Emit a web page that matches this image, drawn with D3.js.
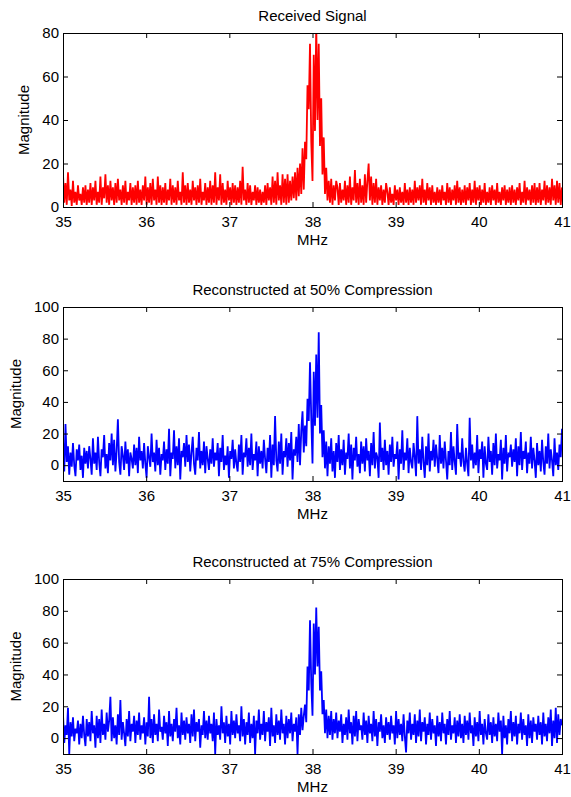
<!DOCTYPE html>
<html>
<head>
<meta charset="utf-8">
<script src="https://cdn.jsdelivr.net/npm/d3@7"></script>
<style>
  body { margin: 0; background: #fff; }
  svg text { font-family: Arial, "Liberation Sans", Helvetica, sans-serif; font-size: 15px; fill: #000; }
</style>
</head>
<body>
<div id="chart"></div>
<script>
// Three spectra, sampled evenly from 35 to 41 MHz

const freqRange = [35, 41];
const freqTicks = [35, 36, 37, 38, 39, 40, 41];

const titles = ["Received Signal", "Reconstructed at 50% Compression", "Reconstructed at 75% Compression"];
const yDomains = [[0, 80], [-10, 100], [-10, 100]];
const yTicks = [[0, 20, 40, 60, 80], [0, 20, 40, 60, 80, 100], [0, 20, 40, 60, 80, 100]];
const colors = ["#ff0000", "#0000ff", "#0000ff"];

const received = [
  15,2,11,1,16,3,8,0.5,12,2,7,1,10,3,6,1,9,2,10,1,
  8,2,11,1,9,3,12,1,7,2,14,1,9,4,15,2,10,1,12,3,
  9,1,11,2,13,3,8,1,10,2,12,1,7,3,11,1,9,2,10,1,
  12,2,8,1,10,3,14,1,9,2,11,1,13,3,8,1,14,2,10,1,
  9,2,11,1,8,3,13,1,10,2,9,1,12,3,7,1,16,2,10,1,
  11,2,8,1,12,3,9,1,10,2,13,1,7,3,11,1,9,2,12,1,
  10,2,16,1,9,3,15,1,11,2,8,1,12,3,9,1,11,2,10,1,
  9,2,12,1,18.5,3,8,1,11,2,10,1,7,3,10,1,9,2,8,1,
  7,2,10,1,11,3,9,1,14,2,12,1,16,3,10,1,15,2,13,1,
  15,2,12,3,14,4,16,3,18,5,20,6,27,8,30,22,56,45,75,30,
  12,70,35,84,40,75,28,50,15,32,6,18,3,12,2,13,1,10,3,12,
  9,1,11,2,8,3,12,1,10,2,14,1,9,3,17,2,11,1,13,2,
  10,1,15,2,12,20,3,14,1,11,2,13,1,9,3,10,1,8,2,11,
  7,1,9,2,6,1,10,3,8,1,9,2,7,1,11,2,8,1,9,2,
  8,1,12,2,9,3,10,1,13,2,8,1,11,3,9,1,10,2,7,1,
  9,2,8,1,10,3,7,1,11,2,9,1,8,3,10,1,12,2,9,1,
  8,2,10,1,9,3,11,1,8,2,12,1,9,3,10,1,8,2,11,1,
  7,2,9,1,10,3,8,1,11,2,7,1,9,3,10,1,8,2,9,1,
  10,2,8,1,9,3,11,1,7,2,12,1,9,3,8,1,10,2,11,1,
  9,2,11,1,8,3,12,1,10,2,9,1,13,3,10,1,12,2,11,1,
  9
];

const recon50 = [
  16,-4,26,2,12,-6,8,-1,14,0,-7,10,3,13,-3,6,-8,11,1,9,
  -2,12,4,-6,17,1,8,-3,18,2,-7,10,5,19,-2,7,-5,14,3,20,
  0,16,-4,9,29,2,-6,12,6,-3,15,1,10,-7,8,4,-2,13,0,11,
  -5,18,3,9,-2,14,1,-8,12,5,-1,20,2,8,-4,16,0,11,-6,7,
  3,15,-3,10,1,23,-7,8,4,22,-2,12,0,17,-9,9,5,14,-1,19,
  2,13,-4,8,18,1,-6,11,3,21,-2,9,0,15,-5,12,4,-3,10,1,
  17,-1,8,3,14,-7,11,2,19,-3,6,0,12,-8,9,4,16,-2,10,1,
  -4,13,2,19,-6,8,5,17,-1,11,0,20,-3,7,3,15,-7,12,1,9,
  -2,16,4,-5,11,2,19,-8,13,0,31,3,-4,15,1,20,-6,9,5,17,
  -1,14,3,21,-9,10,6,18,2,26,0,22,34,8,25,12,42,28,65,30,
  1,59,25,70,30,84,20,38,5,22,-2,15,-7,12,1,17,-4,9,-8,14,
  2,19,-3,10,0,16,-6,8,4,20,-2,13,-9,11,3,18,-1,7,-5,15,
  1,12,-4,17,3,9,-7,14,0,21,-2,8,5,-8,27,2,11,-3,16,0,
  9,-6,13,2,18,-1,7,4,15,-9,10,1,22,-3,8,3,17,-5,11,2,
  -2,14,5,-7,31,1,10,-3,18,2,-8,12,0,20,-4,9,3,16,-1,13,
  4,-5,19,1,11,-2,15,3,-9,9,0,21,-3,12,2,-6,26,4,8,-1,
  17,2,-4,11,1,-7,30,3,13,-2,8,0,19,-5,10,4,15,-8,12,1,
  -3,18,2,9,-6,14,0,20,-2,7,3,16,-9,11,1,19,-4,8,5,13,
  -1,10,2,17,-7,12,0,21,-3,9,4,15,-5,8,1,18,-2,11,3,-8,
  14,0,9,-4,16,2,-6,12,1,20,-2,10,3,-7,17,0,8,-3,13,5,
  23
];

const recon75 = [
  15,-3,8,2,19,-10,10,1,13,-2,6,3,11,-4,9,0,14,2,-5,12,
  1,10,-2,17,3,8,-6,14,0,12,-3,18,2,9,-1,16,4,11,26,-2,
  13,0,8,-4,15,2,24,-1,10,3,-5,12,1,17,-2,9,4,14,-3,11,
  2,16,-1,8,3,13,-4,10,1,26,0,12,-3,15,2,9,-2,18,4,7,
  -1,14,3,10,-5,17,1,9,-2,12,4,19,0,8,-4,16,2,11,-1,13,
  3,9,-3,15,1,18,-2,10,4,12,-6,8,2,17,0,11,-1,14,3,9,
  -2,16,-10,12,2,8,-1,20,3,10,-3,14,1,9,-4,17,2,11,0,15,
  3,8,-2,20,1,12,-4,10,2,16,-3,9,0,14,-10,11,3,18,-1,9,
  2,17,-2,10,4,13,-5,19,1,8,-3,15,2,11,-1,18,3,9,-4,14,
  0,12,3,16,-2,9,4,13,-10,15,2,19,5,14,21,10,45,30,74,35,
  14,72,40,82,45,70,30,42,15,24,3,18,0,14,2,17,-1,12,3,16,
  0,11,4,15,-3,9,2,13,-1,18,3,10,-4,14,1,17,-2,12,5,8,
  -1,16,2,11,-3,14,3,9,-2,17,1,12,-5,10,4,15,0,8,-3,13,
  2,10,-1,14,3,8,-4,17,0,12,2,9,-2,15,1,-9,11,3,16,-1,
  9,2,15,-3,11,1,18,-2,10,4,13,-4,9,2,16,-1,12,3,8,-5,
  14,1,10,-2,16,3,9,-4,12,2,17,-1,8,3,13,-3,11,1,15,0,
  9,-3,14,2,11,-1,16,3,8,-5,13,1,10,-2,17,2,9,-4,12,3,
  -1,15,2,10,-3,13,1,9,-2,16,4,11,-10,14,0,8,-4,12,3,17,
  -2,10,1,14,-4,9,3,16,-1,12,2,8,-5,15,0,11,-3,13,4,9,
  -1,14,2,10,-4,16,1,9,-2,13,3,18,-5,11,0,19,-3,15,2,12,
  8
];

const series = [received, recon50, recon75];

// layout
const W = 571, H = 797;
const left = 63, right = 562;
const tops = [33, 307, 579];
const bottoms = [207, 481, 754];

const svg = d3.select("#chart").append("svg")
  .attr("width", W)
  .attr("height", H);

const x = d3.scaleLinear().domain(freqRange).range([left, right]);

series.forEach((values, k) => {
  const top = tops[k], bottom = bottoms[k];
  const y = d3.scaleLinear().domain(yDomains[k]).range([bottom, top]);
  const g = svg.append("g");

  const clipId = "clip" + k;
  svg.append("clipPath").attr("id", clipId)
    .append("rect")
    .attr("x", left).attr("y", top)
    .attr("width", right - left).attr("height", bottom - top);

  const step = (freqRange[1] - freqRange[0]) / (values.length - 1);
  const line = d3.line()
    .x((d, i) => x(freqRange[0] + i * step))
    .y(d => y(d));

  g.append("path")
    .datum(values)
    .attr("clip-path", `url(#${clipId})`)
    .attr("fill", "none")
    .attr("stroke", colors[k])
    .attr("stroke-width", 1.8)
    .attr("d", line);

  // axes, ticks pointing inward
  g.append("g")
    .attr("transform", `translate(0,${bottom})`)
    .call(d3.axisBottom(x).tickValues(freqTicks).tickFormat(d3.format("d"))
      .tickSizeInner(-5).tickSizeOuter(0).tickPadding(9))
    .call(a => a.select(".domain").remove());

  g.append("g")
    .attr("transform", `translate(0,${top})`)
    .call(d3.axisTop(x).tickValues(freqTicks).tickSizeInner(-5).tickSizeOuter(0).tickFormat(""))
    .call(a => a.select(".domain").remove());

  const yAxis = g.append("g")
    .attr("transform", `translate(${left},0)`)
    .call(d3.axisLeft(y).tickValues(yTicks[k]).tickSizeInner(-5).tickSizeOuter(0).tickPadding(4))
    .call(a => a.select(".domain").remove());

  g.append("g")
    .attr("transform", `translate(${right},0)`)
    .call(d3.axisRight(y).tickValues(yTicks[k]).tickSizeInner(-5).tickSizeOuter(0).tickFormat(""))
    .call(a => a.select(".domain").remove());

  g.append("rect")
    .attr("x", left + 0.5).attr("y", top + 0.5)
    .attr("width", right - left).attr("height", bottom - top)
    .attr("fill", "none")
    .attr("stroke", "#000")
    .attr("stroke-width", 1);

  let maxW = 0;
  yAxis.selectAll("text").each(function() {
    maxW = Math.max(maxW, this.getComputedTextLength());
  });

  g.append("text")
    .attr("transform", `translate(${left - 4 - maxW - 13},${(top + bottom) / 2}) rotate(-90)`)
    .attr("text-anchor", "middle")
    .text("Magnitude");

  g.append("text")
    .attr("x", (left + right) / 2)
    .attr("y", bottom + 38)
    .attr("text-anchor", "middle")
    .text("MHz");

  g.append("text")
    .attr("x", (left + right) / 2)
    .attr("y", top - 12.5)
    .attr("text-anchor", "middle")
    .text(titles[k]);
});
</script>
</body>
</html>
